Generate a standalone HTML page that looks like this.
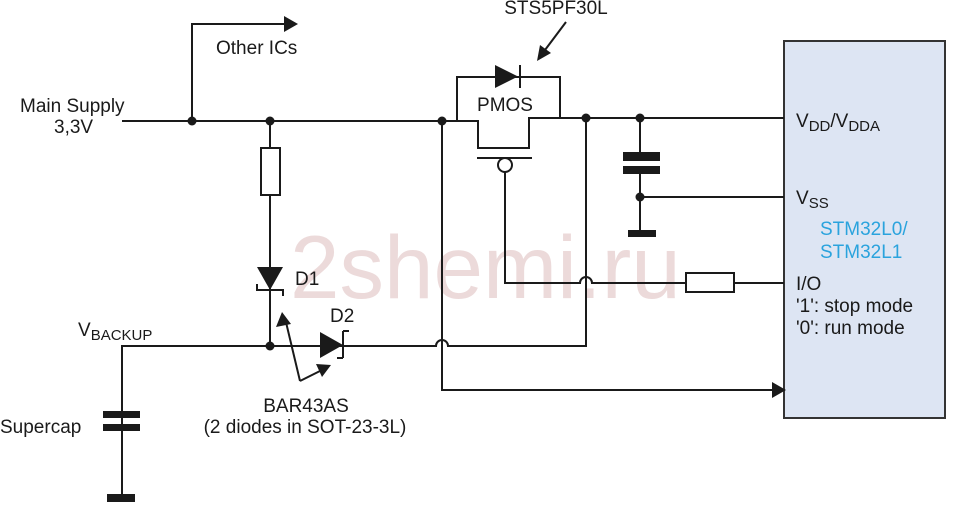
<!DOCTYPE html>
<html><head><meta charset="utf-8"><style>
html,body{margin:0;padding:0;background:#fff;}
svg{display:block;font-family:"Liberation Sans",Arial,sans-serif;}
</style></head><body>
<svg width="970" height="526" viewBox="0 0 970 526" xmlns="http://www.w3.org/2000/svg">
<rect x="784" y="41" width="161" height="377" fill="#dde5f3" stroke="#333" stroke-width="2"/>
<text x="290" y="298" font-size="89" fill="#ecdada">2shemi.ru</text>
<g stroke="#1a1a1a" stroke-width="2" fill="none">
<path d="M122 121 H478 V148 H529 V118 H784"/>
<path d="M457 121 V77 H560 V118"/>
<path d="M192 121 V24 H286"/>
<path d="M477 158 H532"/>
<circle cx="505" cy="165" r="7" fill="#fff"/>
<path d="M505 172 V283 H580 A6 6 0 0 1 592 283 H686"/>
<rect x="686" y="273" width="48" height="19"/>
<path d="M734 283 H784"/>
<path d="M270 121 V148"/>
<rect x="261" y="148" width="19" height="47"/>
<path d="M270 195 V346"/>
<path d="M257 284 V290 H283 V296"/>
<path d="M122 497 V346 H436 A6 6 0 0 1 448 346 H586 V118"/>
<path d="M343 331 V358 M343 331 H349 M343 358 H337"/>
<path d="M442 121 V390 H772"/>
<path d="M640 118 V157 M640 174 V232"/>
<path d="M640 197 H784"/>
<path d="M300 381 L285 318 M300 381 L322 370"/>
<path d="M566 22 L545 50"/>
<path d="M520 65 V88"/>
</g>
<g fill="#1a1a1a">
<circle cx="192" cy="121" r="4.5"/><circle cx="270" cy="121" r="4.5"/><circle cx="442" cy="121" r="4.5"/>
<circle cx="586" cy="118" r="4.5"/><circle cx="640" cy="118" r="4.5"/><circle cx="640" cy="197" r="4.5"/>
<circle cx="270" cy="346" r="4.5"/>
<polygon points="284,16 298,24 284,32"/>
<polygon points="772,382 786,390 772,398"/>
<polygon points="495,65 518,76.5 495,88"/>
<polygon points="257,267 283,267 270,290"/>
<polygon points="320,332 343,345 320,358"/>
<polygon points="282,312 276,327 291,324"/>
<polygon points="331,365 316,364 322,377"/>
<polygon points="537,61 540,45 551,53"/>
<rect x="623" y="152" width="37" height="9"/><rect x="623" y="166" width="37" height="8"/>
<rect x="628" y="230" width="28" height="7"/>
<rect x="103" y="411" width="37" height="7"/><rect x="103" y="424" width="37" height="7"/>
<rect x="107" y="494" width="28" height="8"/>
</g>
<g font-size="19" fill="#1a1a1a">
<text x="20" y="112">Main Supply</text>
<text x="54" y="133">3,3V</text>
<text x="216" y="54">Other ICs</text>
<text x="556" y="14" text-anchor="middle">STS5PF30L</text>
<text x="505" y="111" text-anchor="middle">PMOS</text>
<text x="295" y="285">D1</text>
<text x="330" y="322">D2</text>
<text x="78" y="336">V<tspan font-size="15" dy="4">BACKUP</tspan></text>
<text x="0" y="433">Supercap</text>
<text x="306" y="412" text-anchor="middle">BAR43AS</text>
<text x="305" y="433" text-anchor="middle">(2 diodes in SOT-23-3L)</text>
<text x="796" y="127">V<tspan font-size="15" dy="4">DD</tspan><tspan dy="-4">/V</tspan><tspan font-size="15" dy="4">DDA</tspan></text>
<text x="796" y="204">V<tspan font-size="15" dy="4">SS</tspan></text>
<text x="820" y="235" fill="#2aa3dd">STM32L0/</text>
<text x="820" y="258" fill="#2aa3dd">STM32L1</text>
<text x="796" y="290">I/O</text>
<text x="796" y="312">'1': stop mode</text>
<text x="796" y="334">'0': run mode</text>
</g>
</svg>
</body></html>
